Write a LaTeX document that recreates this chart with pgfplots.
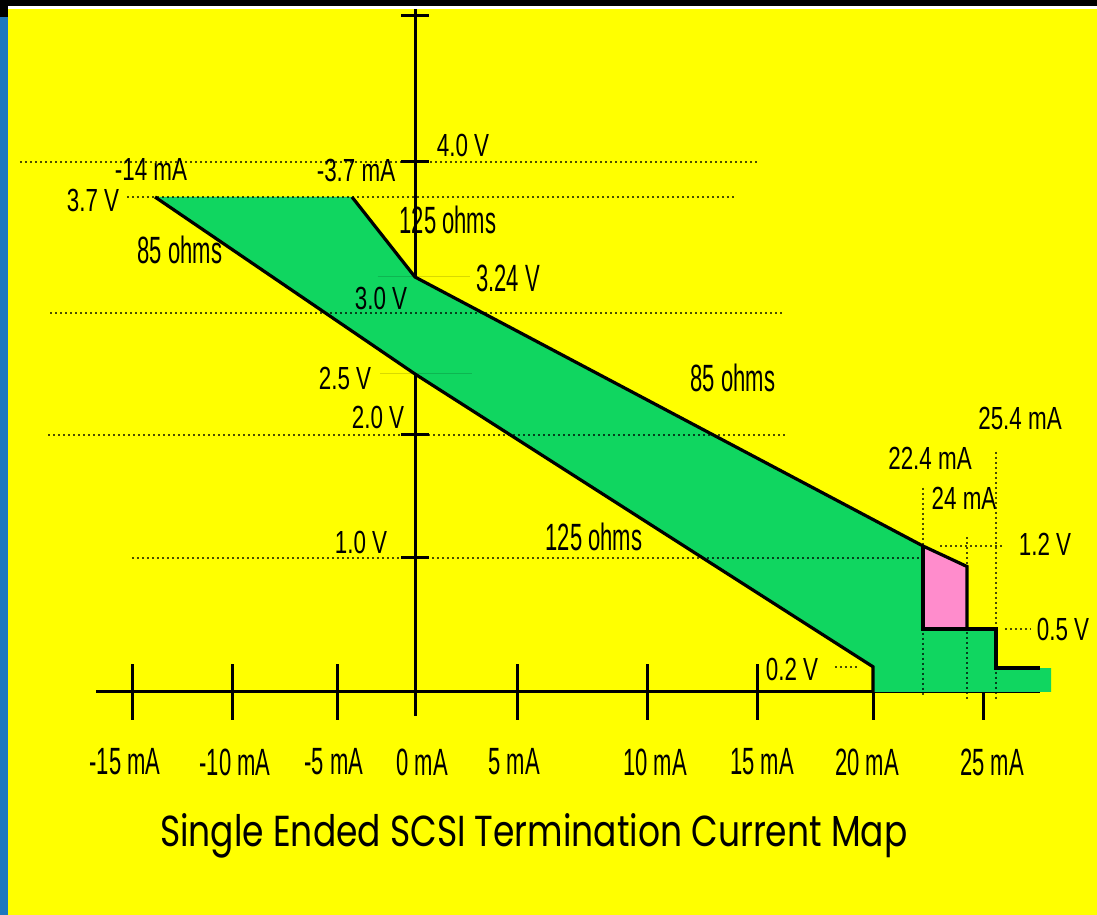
\documentclass[border=0pt]{standalone}
\usepackage{fontspec}
\setmainfont{Liberation Sans}
\newfontfamily\fa[FakeStretch=0.58]{Liberation Sans}
\newfontfamily\fb[FakeStretch=0.70]{Liberation Sans}
\newfontfamily\ftitle{Poppins}
\usepackage{graphicx}
\usepackage{pgfplots}
\pgfplotsset{compat=1.18}

\definecolor{bg}{RGB}{255,255,0}
\definecolor{zone}{RGB}{16,214,96}
\definecolor{hot}{RGB}{255,140,204}
\definecolor{edge}{RGB}{30,120,190}

\newcommand\fA{\fontsize{38}{40}\selectfont\fa}
\newcommand\fB{\fontsize{32}{34}\selectfont\fb}

% the original is hand drawn: its scales are not even, so map mA and V
% piecewise onto the drawn positions (result is relative to the origin)
\pgfmathdeclarefunction{mapx}{1}{%
  \begingroup
  \pgfmathparse{(#1<-15)?(-283+20*(#1+15)):(%
    (#1<-14)?(-283+23*(#1+15)):(%
    (#1<-10)?(-260+19.25*(#1+14)):(%
    (#1<-5)?(-183+21*(#1+10)):(%
    (#1<-3.7)?(-78+11.538*(#1+5)):(%
    (#1<0)?(-63+17.027*(#1+3.7)):(%
    (#1<5)?(20.4*(#1)):(%
    (#1<10)?(102+26*(#1-5)):(%
    (#1<15)?(232+22*(#1-10)):(%
    (#1<20)?(342+23.2*(#1-15)):(%
    (#1<22.4)?(458+20.833*(#1-20)):(%
    (#1<24)?(508+27.5*(#1-22.4)):(%
    (#1<25)?(552+16*(#1-24)):(%
    (#1<25.4)?(568+32.5*(#1-25)):(581+22*(#1-25.4))%
    )))))))))))))}%
  \pgfmathsmuggle\pgfmathresult
  \endgroup}
\pgfmathdeclarefunction{mapy}{1}{%
  \begingroup
  \pgfmathparse{(#1<0.5)?(126*(#1)):(%
    (#1<1)?(63+142*(#1-0.5)):(%
    (#1<1.2)?(134+60*(#1-1)):(%
    (#1<2)?(146+138.75*(#1-1.2)):(%
    (#1<3)?(257+122*(#1-2)):(%
    (#1<3.24)?(379+150*(#1-3)):(%
    (#1<3.7)?(415+173.913*(#1-3.24)):(%
    (#1<4)?(495+116.667*(#1-3.7)):(530+146*(#1-4))%
    )))))))}%
  \pgfmathsmuggle\pgfmathresult
  \endgroup}

\pgfplotsset{
  x coord trafo/.code={\pgfmathparse{mapx(#1)}},
  y coord trafo/.code={\pgfmathparse{mapy(#1)}},
  dotline/.style={line width=2pt, dash pattern=on 2pt off 3pt, black, opacity=0.7},
  faint/.style={line width=1pt, black, opacity=0.15},
  outline/.style={line width=3.2pt, black},
}

\newcommand\lab[4]{\node[inner sep=0pt, anchor=center, font=#1] at ({#2},{915-#3}) {#4};}

\begin{document}
\begin{tikzpicture}[x=1pt,y=1pt]
\useasboundingbox (0,0) rectangle (1097,915);
\fill[bg] (0,0) rectangle (1097,915);

\begin{axis}[
  at={(96pt,199.06pt)}, anchor=south west,
  x=1pt, y=1pt,
  xmin=-16.8, xmax=27.4, ymin=-0.19, ymax=5.075,
  axis lines=middle,
  axis line style={-, line width=3pt, black},
  every inner x axis line/.append style={-},
  every inner y axis line/.append style={-},
  xtick={-15,-10,-5,5,10,15,20,25},
  xticklabels={\relax,\relax,\relax,\relax,\relax,\relax,\relax,\relax},
  ytick=\empty,
  extra y ticks={1,2,3,4,5},
  extra y tick labels={\relax,\relax,\relax,\relax,\relax},
  extra y tick style={major tick length=28pt},
  major tick length=56pt,
  tick align=center,
  tick style={line width=3pt, black},
  clip=false,
]
% operating zone
\addplot[fill=zone, draw=none] coordinates {
  (-14,3.7) (-3.7,3.7) (0,3.24) (22.4,1.2) (22.4,0.5) (25.4,0.5)
  (25.4,0.19) (27.9,0.19) (27.9,0) (20,0) (20,0.2) (0,2.5)} -- cycle;
\addplot[fill=hot, draw=none] coordinates {
  (22.4,1.2) (24,0.94) (24,0.5) (22.4,0.5)} -- cycle;

% reference lines
\addplot[dotline] coordinates {(-20.6,4) (15,4)};
\addplot[dotline] coordinates {(-15.25,3.7) (14,3.7)};
\addplot[dotline] coordinates {(-19.1,3) (16.2,3)};
\addplot[dotline] coordinates {(-19.2,2) (16.3,2)};
\addplot[dotline] coordinates {(-15,1) (22.4,1)};
\addplot[dotline] coordinates {(23.02,1.2) (25.8,1.2)};
\addplot[dotline] coordinates {(25.8,0.5) (26.95,0.5)};
\addplot[dotline] coordinates {(18.36,0.2) (19.35,0.2)};
\addplot[dotline] coordinates {(22.4,1.62) (22.4,-0.02)};
\addplot[dotline] coordinates {(24,1.265) (24,-0.06)};
\addplot[dotline] coordinates {(25.4,1.88) (25.4,-0.06)};
\addplot[faint] coordinates {(-2.2,3.24) (2.7,3.24)};
\addplot[faint] coordinates {(-2.06,2.5) (2.79,2.5)};

% load lines
\addplot[outline] coordinates {(-14,3.7) (0,2.5) (20,0.2) (20,0)};
\addplot[outline] coordinates {(-3.7,3.7) (0,3.24) (22.4,1.2) (24,0.94) (24,0.5)};
\addplot[outline] coordinates {(22.4,1.2) (22.4,0.5) (25.4,0.5) (25.4,0.19) (27.4,0.19)};
\end{axis}

% frame of the slide
\fill[black] (0,909) rectangle (1097,915);
\fill[white] (8,906) rectangle (1097,909);
\fill[black] (0,898) rectangle (8,915);
\fill[edge] (0,0) rectangle (8,898);

% x labels
\lab{\fA}{125}{762}{-15 mA}
\lab{\fA}{235}{762}{-10 mA}
\lab{\fA}{334}{762}{-5 mA}
\lab{\fA}{422}{762}{0 mA}
\lab{\fA}{514}{762}{5 mA}
\lab{\fA}{655}{762}{10 mA}
\lab{\fA}{762}{762}{15 mA}
\lab{\fA}{867}{762}{20 mA}
\lab{\fA}{992}{762}{25 mA}
% annotations
\lab{\fA}{448}{220}{125 ohms}
\lab{\fA}{180}{250}{85 ohms}
\lab{\fA}{508}{278}{3.24 V}
\lab{\fA}{733}{378}{85 ohms}
\lab{\fA}{594}{537}{125 ohms}
\lab{\fB}{151}{170}{-14 mA}
\lab{\fB}{356}{170}{-3.7 mA}
\lab{\fB}{93}{200}{3.7 V}
\lab{\fB}{463}{145}{4.0 V}
\lab{\fB}{381}{298}{3.0 V}
\lab{\fB}{345}{378}{2.5 V}
\lab{\fB}{378}{417}{2.0 V}
\lab{\fB}{361}{542}{1.0 V}
\lab{\fB}{1020}{418}{25.4 mA}
\lab{\fB}{930}{458}{22.4 mA}
\lab{\fB}{964}{498}{24 mA}
\lab{\fB}{1045}{544}{1.2 V}
\lab{\fB}{1063}{629}{0.5 V}
\lab{\fB}{792}{669}{0.2 V}

\node[inner sep=0pt, anchor=base west] at (160,68)
  {\resizebox{747pt}{33pt}{\ftitle Single Ended SCSI Termination Current Map}};
\end{tikzpicture}
\end{document}
